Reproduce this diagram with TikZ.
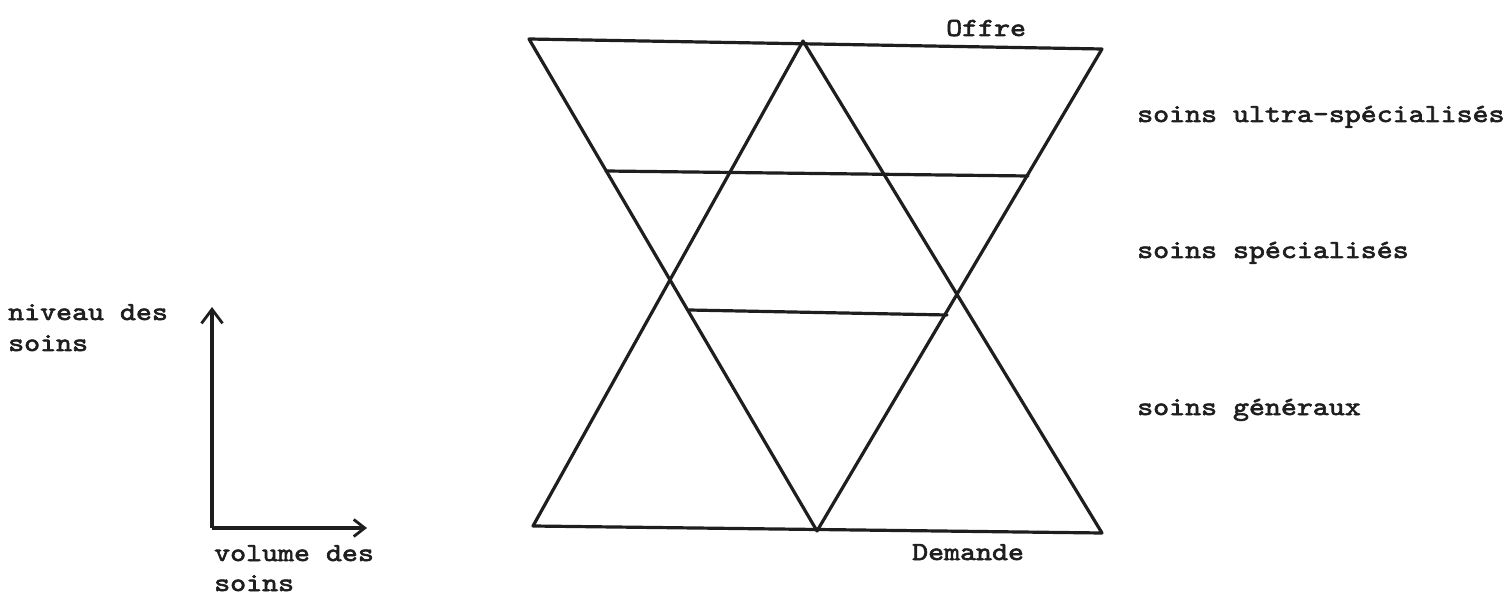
\documentclass[tikz,border=0pt]{standalone}
\usepackage{fontspec}
\usetikzlibrary{arrows.meta}
\newfontfamily\tw{lmmono10-regular.otf}[FakeStretch=1.17,FakeBold=2.4]
\definecolor{ink}{RGB}{30,30,30}
\tikzset{
  edge/.style={draw=ink,line width=3.2pt,line cap=round,line join=round},
  axis/.style={draw=ink,line width=3.2pt},
  lbl/.style={text=ink,inner sep=0pt,anchor=base west,font=\tw\fontsize{26}{31}\selectfont},
}
\begin{document}
\begin{tikzpicture}[x=1pt,y=-1pt]
\useasboundingbox[fill=white] (0,0) rectangle (1509,593);
% inverted triangle (Offre)
\coordinate (TL) at (529,39);
\coordinate (TR) at (1102,49);
\coordinate (B)  at (817,531);
% upright triangle (Demande)
\coordinate (A)  at (803,41);
\coordinate (BL) at (533,526);
\coordinate (BR) at (1102,533);
% level lines
\coordinate (U1) at (606,171);
\coordinate (U2) at (1028,176);
\coordinate (L1) at (689,310);
\coordinate (L2) at (947,315);
\draw[edge] (TL) -- (TR) -- (B) -- cycle;
\draw[edge] (A) -- (BR) -- (BL) -- cycle;
\draw[edge] (U1) -- (U2);
\draw[edge] (L1) -- (L2);
% axes
\coordinate (O) at (212,528);
\coordinate (Y) at (212,307);
\coordinate (X) at (367,528);
\draw[axis,-{Straight Barb[length=14pt,width=21pt,line width=2.8pt]}] (O) -- (Y);
\draw[axis,-{Straight Barb[length=11pt,width=17pt,line width=2.8pt]}] (O) -- (X);
% labels
\node[lbl] (offre) at (946,36) {Offre};
\node[lbl] (demande) at (912,560) {Demande};
\node[lbl] (ultra) at (1137,122) {soins ultra-spécialisés};
\node[lbl] (spec) at (1137,258) {soins spécialisés};
\node[lbl] (gen) at (1137,415) {soins généraux};
\node[lbl] (niv1) at (8,320) {niveau des};
\node[lbl] (niv2) at (8,351) {soins};
\node[lbl] (vol1) at (214,561) {volume des};
\node[lbl] (vol2) at (214,591) {soins};
\end{tikzpicture}
\end{document}
